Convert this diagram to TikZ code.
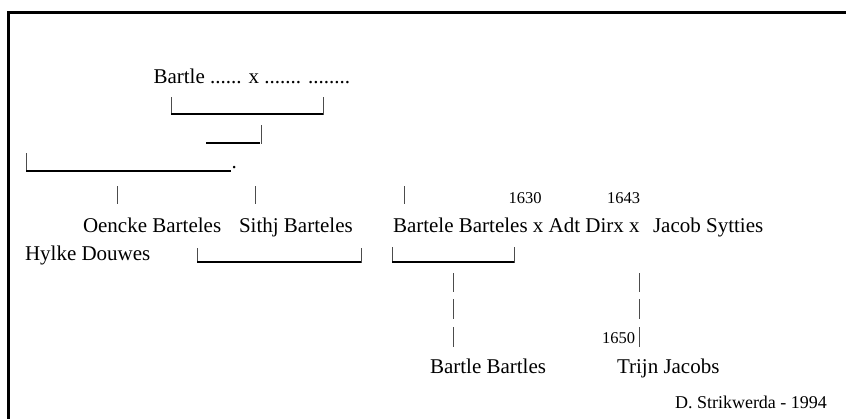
\documentclass[tikz,border=0pt]{standalone}
\usepackage{fontspec}
\setmainfont{Liberation Serif}
\begin{document}
\begin{tikzpicture}[x=1bp,y=-1bp,
  txt/.style={anchor=base west,inner sep=0pt,outer sep=0pt,font=\fontsize{21bp}{25bp}\selectfont},
  small/.style={anchor=base west,inner sep=0pt,outer sep=0pt,font=\fontsize{16.5bp}{20bp}\selectfont},
  sign/.style={anchor=base west,inner sep=0pt,outer sep=0pt,font=\fontsize{18bp}{22bp}\selectfont},
  bar/.style={line width=0.9bp,black!70},
  uline/.style={line width=1.2bp,black},
  frame/.style={line width=3bp,black}]
\useasboundingbox (0,0) rectangle (846,419);
% frame (top and left edges)
\coordinate (fTR) at (846,12.5);
\coordinate (fTL) at (8.5,12.5);
\coordinate (fBL) at (8.5,419);
\draw[frame] (fTR) -- (fTL) -- (fBL);

% texts
\node[txt] (top) at (153.5,83) {Bartle ...... x ....... ........};
\node[txt] (dot) at (231.5,168.5) {.};
\node[small] (y1630) at (508.5,203.5) {1630};
\node[small] (y1643) at (607,203.5) {1643};
\node[txt] (oencke) at (83,232) {Oencke Barteles};
\node[txt] (sithj) at (239,232) {Sithj Barteles};
\node[txt] (bartele) at (393,232) {Bartele Barteles x Adt Dirx x};
\node[txt] (jacob) at (653,232) {Jacob Sytties};
\node[txt] (hylke) at (25,260) {Hylke Douwes};
\node[small] (y1650) at (602,343.5) {1650};
\node[txt] (bartle) at (430,373) {Bartle Bartles};
\node[txt] (trijn) at (617,373) {Trijn Jacobs};
\node[sign] (sign) at (675,408) {D. Strikwerda - 1994};

% bracket A
\coordinate (a1) at (171,97);  \coordinate (a2) at (171,115);
\coordinate (a3) at (323,97);  \coordinate (a4) at (323,115);
\coordinate (a5) at (171,114); \coordinate (a6) at (323,114);
\draw[bar] (a1) -- (a2); \draw[bar] (a3) -- (a4); \draw[uline] (a5) -- (a6);
% bracket B
\coordinate (b1) at (206,143); \coordinate (b2) at (260,143);
\coordinate (b3) at (261,125); \coordinate (b4) at (261,144);
\draw[uline] (b1) -- (b2); \draw[bar] (b3) -- (b4);
% bracket C
\coordinate (c1) at (26,153); \coordinate (c2) at (26,172);
\coordinate (c3) at (26,171); \coordinate (c4) at (231,171);
\draw[bar] (c1) -- (c2); \draw[uline] (c3) -- (c4);
% three bars
\foreach \n/\x in {d1/117,d2/255,d3/404}{
  \coordinate (\n t) at (\x,186); \coordinate (\n b) at (\x,204);
  \draw[bar] (\n t) -- (\n b);}
% bracket D
\coordinate (e1) at (197,248); \coordinate (e2) at (197,263);
\coordinate (e3) at (361,248); \coordinate (e4) at (361,263);
\coordinate (e5) at (197,262); \coordinate (e6) at (361,262);
\draw[bar] (e1) -- (e2); \draw[bar] (e3) -- (e4); \draw[uline] (e5) -- (e6);
% bracket E
\coordinate (g1) at (392,247); \coordinate (g2) at (392,263);
\coordinate (g3) at (514,247); \coordinate (g4) at (514,263);
\coordinate (g5) at (392,262); \coordinate (g6) at (514,262);
\draw[bar] (g1) -- (g2); \draw[bar] (g3) -- (g4); \draw[uline] (g5) -- (g6);
% descending bars
\foreach \x/\n in {453/p,639/q}{
  \foreach \t/\b/\k in {273/292/1,299/319/2,327/347/3}{
    \coordinate (\n\k t) at (\x,\t); \coordinate (\n\k b) at (\x,\b);
    \draw[bar] (\n\k t) -- (\n\k b);}}
\end{tikzpicture}
\end{document}
